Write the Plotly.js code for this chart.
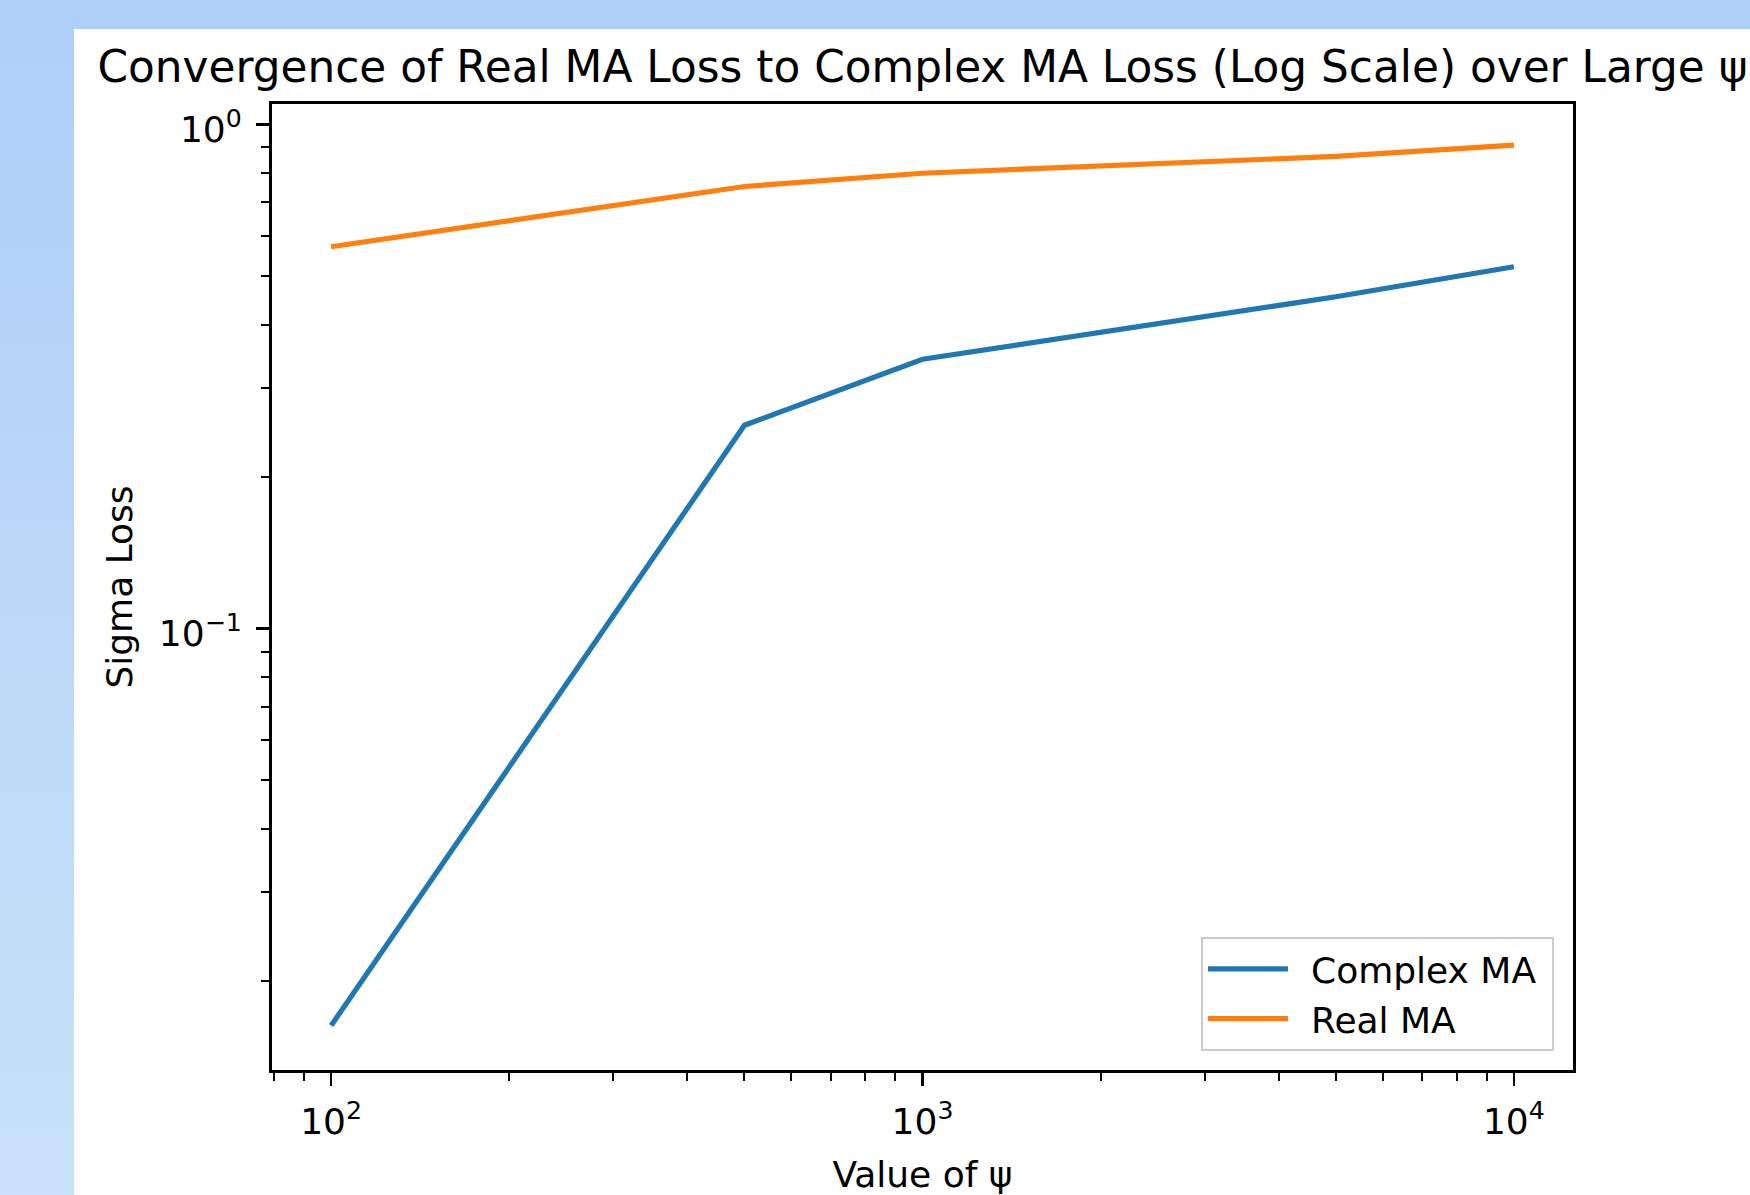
<!DOCTYPE html>
<html><head><meta charset="utf-8">
<script src="https://cdn.plot.ly/plotly-3.0.1.min.js"></script>
<style>
html,body{margin:0;padding:0;width:1750px;height:1195px;overflow:hidden;}
body{background:linear-gradient(to bottom,#aecff8 0%,#c9e1f9 100%);}
#chart{position:absolute;left:74px;top:29px;width:1676px;height:1166px;background:#fff;}
</style></head><body>
<div id="chart"></div>
<script>
const psi = [100, 500, 1000, 5000, 10000];
const complexMA = [0.0163, 0.253, 0.342, 0.455, 0.522];
const realMA = [0.572, 0.753, 0.800, 0.864, 0.910];
const seriesNames = ['Complex MA', 'Real MA'];
const seriesColors = ['#1f77b4', '#ff7f0e'];
const xTickVals = [100, 1000, 10000];
const xTickText = ['10<sup>2</sup>', '10<sup>3</sup>', '10<sup>4</sup>'];
const yTickVals = [0.1, 1];
const yTickText = ['10<sup>\u22121</sup>', '10<sup>0</sup>'];
const titleText = 'Convergence of Real MA Loss to Complex MA Loss (Log Scale) over Large \u03c8';
const xTitle = 'Value of \u03c8';
const yTitle = 'Sigma Loss';

const FONT = 'DejaVu Sans, sans-serif';
const traces = [complexMA, realMA].map((ys, i) => ({
  x: psi, y: ys, type: 'scatter', mode: 'lines', name: '\u2002' + seriesNames[i] + '\u2009\u200a',
  line: {color: seriesColors[i], width: 5.2}
}));

const axisCommon = {
  type: 'log', showgrid: false, zeroline: false,
  showline: true, linecolor: '#000', linewidth: 3, mirror: true,
  ticks: 'outside', ticklen: 13, tickwidth: 2.5, tickcolor: '#000',
  tickmode: 'array',
  tickfont: {family: FONT, size: 36, color: '#000'},
  minor: {ticks: 'outside', ticklen: 8, tickwidth: 2, tickcolor: '#000', dtick: 'D1', showgrid: false}
};

const layout = {
  width: 1676, height: 1166,
  margin: {l: 198, r: 177, t: 75, b: 125, pad: 0},
  paper_bgcolor: '#fff', plot_bgcolor: '#fff',
  font: {family: FONT, color: '#000'},
  title: {text: titleText, font: {family: FONT, size: 43.8, color: '#000'},
          x: 0.5, xref: 'paper', xanchor: 'center', y: 0.968, yref: 'container', yanchor: 'middle'},
  xaxis: Object.assign({}, axisCommon, {
    range: [1.9, 4.1], tickvals: xTickVals, ticktext: xTickText,
    ticklabelstandoff: 5,
    title: {text: xTitle, font: {family: FONT, size: 36, color: '#000'}, standoff: 22}
  }),
  yaxis: Object.assign({}, axisCommon, {
    range: [-1.876, 0.0405], tickvals: yTickVals, ticktext: yTickText,
    ticklabelstandoff: 7, ticklabelshift: 5,
    title: {text: yTitle, font: {family: FONT, size: 36, color: '#000'}, standoff: 16}
  }),
  showlegend: true,
  legend: {x: 0.9854, y: 0.0197, xanchor: 'right', yanchor: 'bottom',
           bgcolor: '#fff', bordercolor: '#cccccc', borderwidth: 2,
           font: {family: FONT, size: 36, color: '#000'}, itemwidth: 80}
};

Plotly.newPlot('chart', traces, layout, {displayModeBar: false, staticPlot: true});
</script>
</body></html>
